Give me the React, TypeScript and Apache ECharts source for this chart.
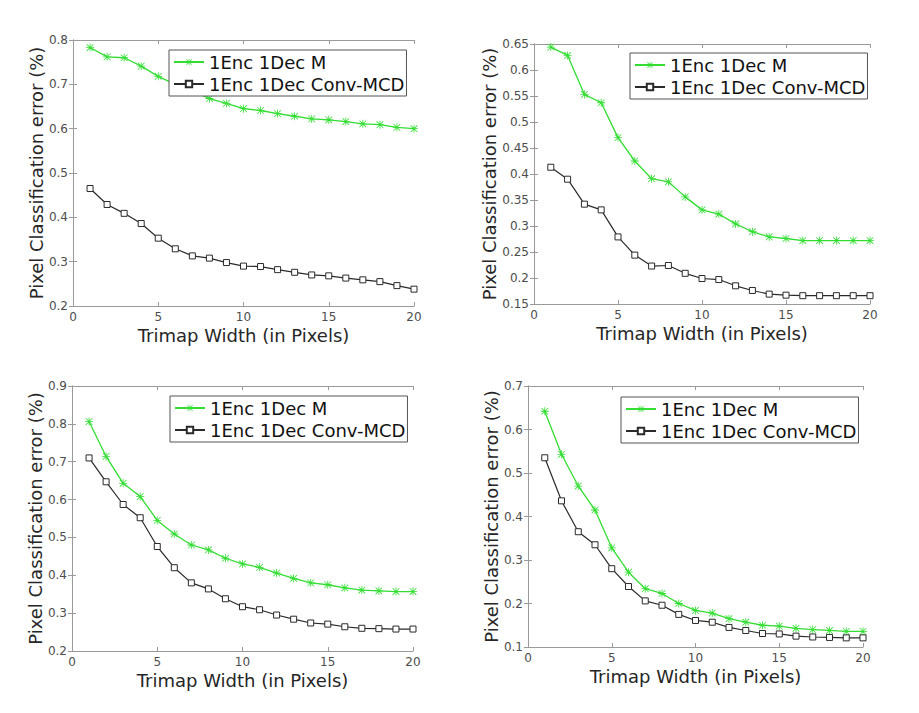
import React, { useEffect, useRef } from "react";
import * as echarts from "echarts";

const xValues = [1, 2, 3, 4, 5, 6, 7, 8, 9, 10, 11, 12, 13, 14, 15, 16, 17, 18, 19, 20];
const seriesNames = ["1Enc 1Dec M", "1Enc 1Dec Conv-MCD"];
const xTitle = "Trimap Width (in Pixels)";
const yTitle = "Pixel Classification error (%)";

const p1Green = [0.783, 0.762, 0.760, 0.741, 0.718, 0.700, 0.684, 0.668, 0.657, 0.645, 0.641, 0.634, 0.628, 0.622, 0.620, 0.616, 0.611, 0.609, 0.603, 0.600];
const p1Black = [0.465, 0.429, 0.409, 0.386, 0.353, 0.329, 0.313, 0.308, 0.298, 0.290, 0.289, 0.282, 0.276, 0.270, 0.268, 0.263, 0.259, 0.255, 0.246, 0.238];

const p2Green = [0.644, 0.628, 0.553, 0.537, 0.470, 0.425, 0.391, 0.385, 0.356, 0.331, 0.323, 0.304, 0.289, 0.279, 0.276, 0.272, 0.272, 0.272, 0.272, 0.272];
const p2Black = [0.413, 0.390, 0.342, 0.331, 0.279, 0.244, 0.223, 0.224, 0.209, 0.199, 0.197, 0.185, 0.176, 0.169, 0.167, 0.166, 0.166, 0.166, 0.166, 0.166];

const p3Green = [0.806, 0.714, 0.643, 0.608, 0.545, 0.509, 0.480, 0.467, 0.445, 0.430, 0.421, 0.406, 0.392, 0.380, 0.375, 0.367, 0.361, 0.359, 0.357, 0.357];
const p3Black = [0.710, 0.647, 0.587, 0.552, 0.476, 0.420, 0.380, 0.364, 0.338, 0.317, 0.309, 0.295, 0.284, 0.274, 0.271, 0.264, 0.260, 0.259, 0.258, 0.258];

const p4Green = [0.642, 0.543, 0.470, 0.415, 0.328, 0.272, 0.234, 0.223, 0.200, 0.184, 0.178, 0.165, 0.157, 0.150, 0.148, 0.143, 0.140, 0.138, 0.136, 0.136];
const p4Black = [0.535, 0.436, 0.365, 0.335, 0.280, 0.239, 0.206, 0.196, 0.175, 0.161, 0.157, 0.145, 0.138, 0.131, 0.130, 0.125, 0.123, 0.122, 0.121, 0.121];

const yMins = [0.2, 0.15, 0.2, 0.1];
const yMaxs = [0.8, 0.65, 0.9, 0.7];
const yIntervals = [0.1, 0.05, 0.1, 0.1];

const panels = [
  { green: p1Green, black: p1Black },
  { green: p2Green, black: p2Black },
  { green: p3Green, black: p3Black },
  { green: p4Green, black: p4Black },
];

const layout = [
  { left: 73, top: 40, width: 341, height: 266, yGap: 26, legend: { left: 169, top: 50 } },
  { left: 534, top: 44, width: 336, height: 260, yGap: 29, legend: { left: 630, top: 53 } },
  { left: 72, top: 386, width: 341, height: 265, yGap: 26, legend: { left: 170, top: 396 } },
  { left: 528, top: 386, width: 335, height: 261, yGap: 25, legend: { left: 621, top: 397 } },
];

const GREEN = "#33dd33";
const BLACK = "#2a2a2a";
const AXIS = "#9a9a9a";
const TICKTXT = "#4d4d4d";
const FONT = "DejaVu Sans";

const asterisk =
  "path://M4.5 0H5.5V10H4.5Z M0 4.5H10V5.5H0Z M1.2 0.5L9.5 8.8L8.8 9.5L0.5 1.2Z M8.8 0.5L9.5 1.2L1.2 9.5L0.5 8.8Z";

export default function App() {
  const ref = useRef<HTMLDivElement>(null);
  useEffect(() => {
    if (!ref.current) return;
    const chart = echarts.init(ref.current, null, { renderer: "svg" });
    const grid: any[] = [];
    const xAxis: any[] = [];
    const yAxis: any[] = [];
    const series: any[] = [];
    const legend: any[] = [];

    layout.forEach((l, i) => {
      grid.push({ left: l.left, top: l.top, width: l.width, height: l.height, show: false });
      xAxis.push({
        type: "value",
        gridIndex: i,
        min: 0,
        max: 20,
        interval: 5,
        position: "bottom",
        name: xTitle,
        nameLocation: "middle",
        nameGap: 20,
        nameTextStyle: { fontFamily: FONT, fontSize: 18, color: "#262626" },
        axisLine: { show: true, lineStyle: { color: AXIS, width: 1 } },
        axisTick: { show: true, inside: true, length: 4, lineStyle: { color: AXIS } },
        axisLabel: { fontFamily: FONT, fontSize: 12, color: TICKTXT, margin: 5 },
        splitLine: { show: false },
      });
      xAxis.push({
        type: "value",
        gridIndex: i,
        min: 0,
        max: 20,
        interval: 5,
        position: "top",
        axisLine: { show: true, lineStyle: { color: AXIS, width: 1 } },
        axisTick: { show: true, inside: true, length: 4, lineStyle: { color: AXIS } },
        axisLabel: { show: false },
        splitLine: { show: false },
      });
      yAxis.push({
        type: "value",
        gridIndex: i,
        min: yMins[i],
        max: yMaxs[i],
        interval: yIntervals[i],
        position: "left",
        name: yTitle,
        nameLocation: "middle",
        nameGap: l.yGap,
        nameTextStyle: { fontFamily: FONT, fontSize: 18, color: "#262626" },
        axisLine: { show: true, lineStyle: { color: AXIS, width: 1 } },
        axisTick: { show: true, inside: true, length: 4, lineStyle: { color: AXIS } },
        axisLabel: {
          fontFamily: FONT,
          fontSize: 12,
          color: TICKTXT,
          margin: 5,
          formatter: (v: number) => String(Math.round(v * 100) / 100),
        },
        splitLine: { show: false },
      });
      yAxis.push({
        type: "value",
        gridIndex: i,
        min: yMins[i],
        max: yMaxs[i],
        interval: yIntervals[i],
        position: "right",
        axisLine: { show: true, lineStyle: { color: AXIS, width: 1 } },
        axisTick: { show: true, inside: true, length: 4, lineStyle: { color: AXIS } },
        axisLabel: { show: false },
        splitLine: { show: false },
      });

      const p = panels[i];
      const gName = seriesNames[0] + "\u200b".repeat(i);
      const bName = seriesNames[1] + "\u200b".repeat(i);
      series.push({
        type: "line",
        name: gName,
        xAxisIndex: i * 2,
        yAxisIndex: i * 2,
        data: xValues.map((x, k) => [x, p.green[k]]),
        symbol: asterisk,
        symbolSize: 8,
        showSymbol: true,
        lineStyle: { color: GREEN, width: 1.3 },
        itemStyle: { color: GREEN, borderWidth: 0 },
        z: 3,
      });
      series.push({
        type: "line",
        name: bName,
        xAxisIndex: i * 2,
        yAxisIndex: i * 2,
        data: xValues.map((x, k) => [x, p.black[k]]),
        symbol: "rect",
        symbolSize: 6,
        showSymbol: true,
        lineStyle: { color: BLACK, width: 1.2 },
        itemStyle: { color: "#ffffff", borderColor: BLACK, borderWidth: 1 },
        z: 3,
      });
      legend.push({
        data: [gName, bName],
        left: l.legend.left,
        top: l.legend.top,
        orient: "vertical",
        itemWidth: 30,
        itemHeight: 8,
        itemGap: 4,
        padding: [3, 2, 3, 4],
        borderColor: "#555",
        borderWidth: 1,
        backgroundColor: "#ffffff",
        selectedMode: false,
        textStyle: { fontFamily: FONT, fontSize: 18, color: "#111" },
        formatter: (n: string) => n.replace(/\u200b/g, ""),
        z: 10,
      });
    });

    chart.setOption({
      animation: false,
      backgroundColor: "#ffffff",
      grid,
      xAxis,
      yAxis,
      series,
      legend,
    });
    return () => chart.dispose();
  }, []);

  return (
    <div
      ref={ref}
      style={{ position: "fixed", left: 0, top: 0, width: 919, height: 713, background: "#fff" }}
    />
  );
}
